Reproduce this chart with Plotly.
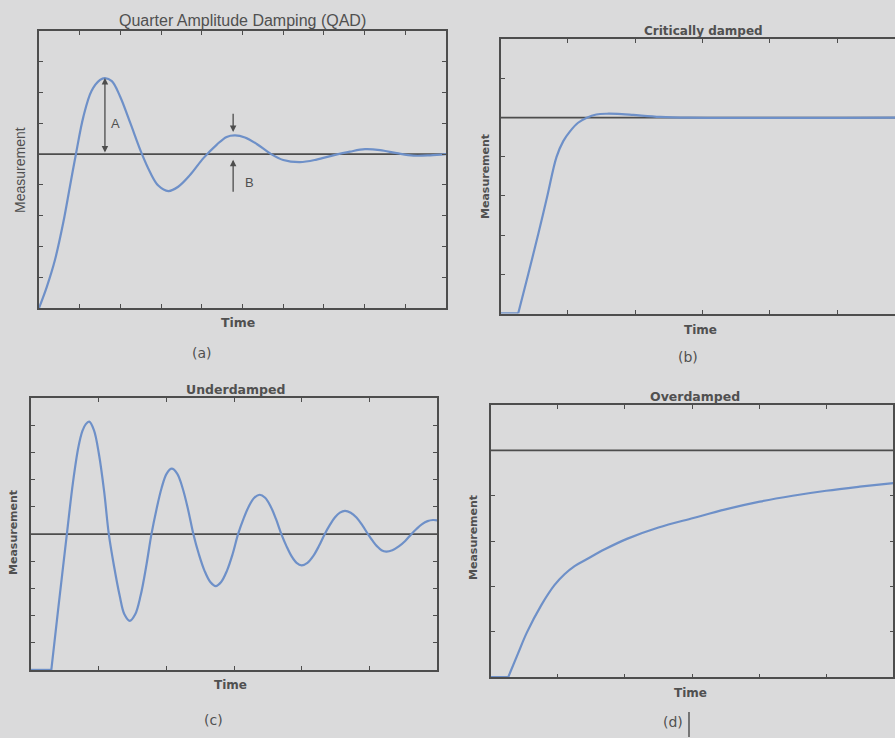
import plotly.graph_objects as go

# ---------------- data ----------------
SETPOINT = 5

# (a) Quarter Amplitude Damping
qad_t = [0, 0.19, 0.39, 0.60, 0.76, 0.91, 1.09, 1.29, 1.50, 1.62, 1.79, 1.99, 2.24, 2.52, 2.73,
         2.93, 3.18, 3.42, 3.71, 4.04, 4.37, 4.61, 4.82, 5.06, 5.35, 5.68, 6.00, 6.41, 6.82,
         7.23, 7.64, 8.01, 8.38, 8.79, 9.20, 9.61, 10.0]
qad_y = [0, 0.68, 1.55, 2.80, 3.95, 5.02, 6.21, 7.05, 7.41, 7.47, 7.37, 6.88, 6.02, 5.03, 4.41,
         3.98, 3.80, 3.94, 4.32, 4.87, 5.31, 5.56, 5.61, 5.54, 5.33, 5.02, 4.81, 4.74, 4.82,
         4.96, 5.08, 5.16, 5.13, 5.03, 4.95, 4.96, 5.0]
qad_lag = 0
qad_sp_t = [0, 10]

# (b) Critically damped
crit_lag = 0.26
crit_t = [0.26, 0.41, 0.56, 0.69, 0.83, 0.93, 1.03, 1.15, 1.28, 1.42, 1.58, 1.80, 1.97, 2.37,
          2.80, 5.86]
crit_y = [0, 1.01, 2.04, 2.98, 4.00, 4.40, 4.65, 4.87, 5.00, 5.08, 5.10, 5.09, 5.07, 5.02,
          5.0, 5.0]
crit_sp_t = [0, 5.86]

# (c) Underdamped
under_lag = 0.30
under_t = [0.30, 0.40, 0.53, 0.62, 0.70, 0.76, 0.81, 0.86,
           0.93, 1.005, 1.08, 1.15, 1.23, 1.31, 1.38, 1.46,
           1.54, 1.62, 1.70, 1.78, 1.855, 1.93, 2.005, 2.08,
           2.16, 2.24, 2.32, 2.40, 2.48, 2.565, 2.65, 2.73,
           2.81, 2.895, 2.98, 3.06, 3.14, 3.22, 3.30, 3.38,
           3.46, 3.54, 3.62, 3.70, 3.775, 3.85, 3.925, 4.00,
           4.085, 4.17, 4.255, 4.34, 4.415, 4.49, 4.565, 4.64,
           4.725, 4.81, 4.895, 4.98, 5.05, 5.115, 5.18, 5.25,
           5.34, 5.435, 5.53, 5.62, 5.70, 5.78, 5.86, 5.94, 6.0]
under_y = [0, 2.2, 5.0, 6.9, 8.2, 8.8, 9.05, 9.14,
           8.83, 7.93, 6.59, 5.0, 3.78, 2.74, 2.05, 1.81,
           2.05, 2.74, 3.78, 5.0, 5.92, 6.70, 7.23, 7.41,
           7.23, 6.70, 5.92, 5.0, 4.27, 3.65, 3.24, 3.09,
           3.24, 3.65, 4.27, 5.0, 5.56, 6.03, 6.34, 6.45,
           6.34, 6.03, 5.56, 5.0, 4.56, 4.19, 3.94, 3.85,
           3.94, 4.19, 4.56, 5.0, 5.33, 5.61, 5.79, 5.86,
           5.79, 5.61, 5.33, 5.0, 4.75, 4.55, 4.41, 4.36,
           4.41, 4.55, 4.75, 5.0, 5.20, 5.37, 5.48, 5.52, 5.51]
under_sp_t = [0, 6]

# (d) Overdamped
over_lag = 0.26
over_t = [0.26, 0.40, 0.54, 0.75, 0.95, 1.10, 1.25, 1.43, 1.70, 2.03, 2.50, 3.02, 3.50, 4.01,
          4.50, 5.00, 5.50, 6.00]
over_y = [0, 0.50, 0.99, 1.58, 2.03, 2.27, 2.45, 2.60, 2.82, 3.05, 3.30, 3.51, 3.70, 3.87,
          4.00, 4.11, 4.20, 4.28]
over_sp_t = [0, 6]

titles = ["Quarter Amplitude Damping (QAD)", "Critically damped", "Underdamped", "Overdamped"]
captions = ["(a)", "(b)", "(c)", "(d)"]

# ---------------- style ----------------
W, H = 895, 738
BG = "#dadadb"
CURVE = "#6e90c8"
DARK = "#4d4d4d"
TXT = "#505050"


def X(px):
    return px / W


def Y(py):
    return 1 - py / H


fig = go.Figure()

panels = [
    ("x", "y", qad_lag, qad_t, qad_y, qad_sp_t, (39, 446), (31, 308), [0, 10], [0, 9], "ticks"),
    ("x2", "y2", crit_lag, crit_t, crit_y, crit_sp_t, (500.7, 895), (39.3, 313.5), [0, 5.86],
     [0, 7], False),
    ("x3", "y3", under_lag, under_t, under_y, under_sp_t, (31, 437), (398.3, 670), [0, 6],
     [0, 10], "ticks"),
    ("x4", "y4", over_lag, over_t, over_y, over_sp_t, (490.7, 893.3), (405, 677.3), [0, 6],
     [0, 6], "ticks"),
]

layout_axes = {}
for i, (xa, ya, lag, t, yv, spt, xd, yd, xr, yr, my) in enumerate(panels):
    fig.add_trace(go.Scatter(x=spt, y=[SETPOINT] * len(spt), xaxis=xa, yaxis=ya, mode="lines",
                             line=dict(color=DARK, width=1.6), hoverinfo="skip", showlegend=False))
    if lag > 0:
        fig.add_trace(go.Scatter(x=[0, lag], y=[0, 0], xaxis=xa, yaxis=ya, mode="lines",
                                 line=dict(color=CURVE, width=2.4), cliponaxis=False,
                                 showlegend=False))
    fig.add_trace(go.Scatter(x=t, y=yv, xaxis=xa, yaxis=ya, mode="lines",
                             line=dict(color=CURVE, width=2.2, shape="spline", smoothing=1.0),
                             showlegend=False))
    xkey = "xaxis" if i == 0 else f"xaxis{i + 1}"
    ykey = "yaxis" if i == 0 else f"yaxis{i + 1}"
    common = dict(showline=True, linecolor=DARK, linewidth=1.6, ticks="inside", ticklen=4,
                  tickwidth=1.3, tickcolor=DARK, showticklabels=False, showgrid=False,
                  zeroline=False, tick0=0, dtick=1, fixedrange=True)
    layout_axes[xkey] = dict(common, domain=[X(xd[0]), X(xd[1])], range=xr, mirror="ticks",
                             anchor=ya)
    layout_axes[ykey] = dict(common, domain=[Y(yd[1]), Y(yd[0])], range=yr, mirror=my,
                             anchor=xa)

fig.update_layout(**layout_axes)

ann = []


def txt(text, px, py, size, family, bold=False, angle=0):
    ann.append(dict(text=f"<b>{text}</b>" if bold else text, x=X(px), y=Y(py), xref="paper",
                    yref="paper", showarrow=False, textangle=angle, xanchor="center",
                    yanchor="middle", font=dict(size=size, family=family, color=TXT)))


# titles
txt(titles[0], 242, 20, 16, "Liberation Sans")
txt(titles[1], 703, 31, 12, "DejaVu Sans", bold=True)
txt(titles[2], 235, 389, 12.5, "DejaVu Sans", bold=True)
txt(titles[3], 695, 396, 12.5, "DejaVu Sans", bold=True)

# y labels
txt("Measurement", 20, 170, 14, "Liberation Sans", angle=-90)
txt("Measurement", 485, 177, 11, "DejaVu Sans", bold=True, angle=-90)
txt("Measurement", 13, 533, 11, "DejaVu Sans", bold=True, angle=-90)
txt("Measurement", 473, 538, 11, "DejaVu Sans", bold=True, angle=-90)

# x labels
txt("Time", 238, 322, 12.5, "DejaVu Sans", bold=True)
txt("Time", 700, 330, 12, "DejaVu Sans", bold=True)
txt("Time", 230, 685, 12, "DejaVu Sans", bold=True)
txt("Time", 690, 693, 12, "DejaVu Sans", bold=True)

# captions
txt(captions[0], 202, 353, 14, "DejaVu Sans")
txt(captions[1], 688, 357, 14, "DejaVu Sans")
txt(captions[2], 213, 720, 14, "DejaVu Sans")
txt(captions[3], 673, 722, 14, "DejaVu Sans")

# A / B markers in panel (a)
peak_a = max(qad_y)
peak_t = qad_t[qad_y.index(peak_a)]
ann.append(dict(x=peak_t, y=peak_a, ax=peak_t, ay=SETPOINT, xref="x", yref="y", axref="x",
                ayref="y", text="", showarrow=True, arrowhead=2, arrowside="end+start",
                arrowsize=1, arrowwidth=1.3, arrowcolor=DARK))
ann.append(dict(text="A", x=1.89, y=6.0, xref="x", yref="y", showarrow=False,
                font=dict(size=13, family="Liberation Sans", color=TXT)))
ann.append(dict(x=4.77, y=5.72, ax=4.77, ay=6.36, xref="x", yref="y", axref="x", ayref="y",
                text="", showarrow=True, arrowhead=2, arrowsize=1, arrowwidth=1.3,
                arrowcolor=DARK))
ann.append(dict(x=4.77, y=4.82, ax=4.77, ay=3.73, xref="x", yref="y", axref="x", ayref="y",
                text="", showarrow=True, arrowhead=2, arrowsize=1, arrowwidth=1.3,
                arrowcolor=DARK))
ann.append(dict(text="B", x=5.18, y=4.09, xref="x", yref="y", showarrow=False,
                font=dict(size=13, family="Liberation Sans", color=TXT)))

fig.update_layout(
    annotations=ann,
    width=W, height=H,
    margin=dict(l=0, r=0, t=0, b=0),
    paper_bgcolor=BG, plot_bgcolor=BG,
    shapes=[dict(type="line", xref="paper", yref="paper", x0=X(689), x1=X(689), y0=Y(712),
                 y1=Y(737), line=dict(color="#333333", width=1.2))],
)

fig.write_html("out.html", config={"displayModeBar": False},
               post_script="document.body.style.margin='0';document.body.style.overflow='hidden';")
